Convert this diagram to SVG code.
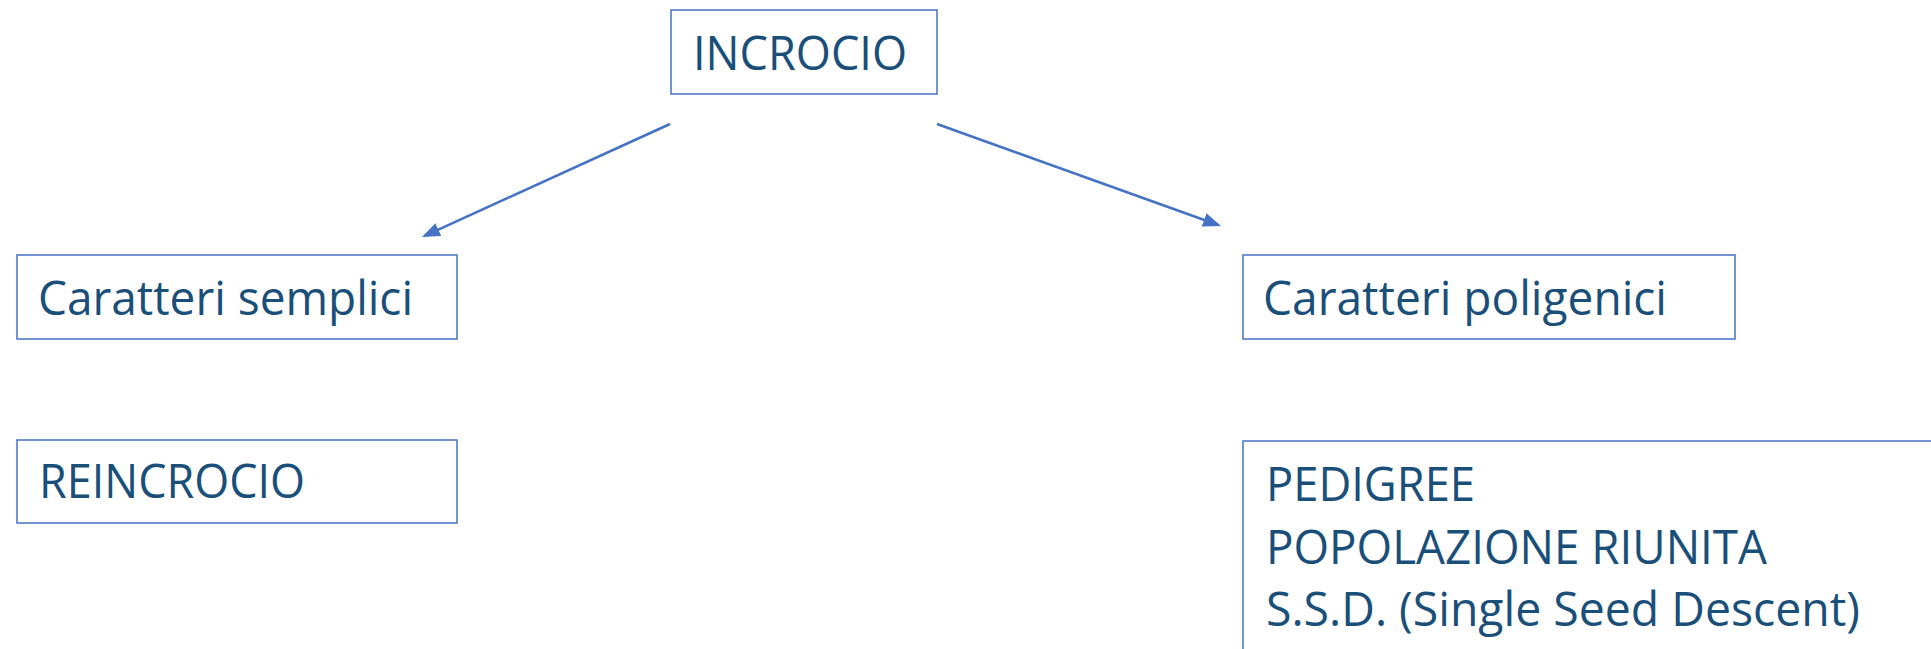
<svg xmlns="http://www.w3.org/2000/svg" width="1931" height="649" viewBox="0 0 1931 649">
<style>
.box{fill:#fff;stroke:#4472C4;stroke-width:1.5}
.t{font-family:"Open Sans","Noto Sans","Liberation Sans",sans-serif;font-size:48px;fill:#1a4f7a}
.c{stroke:#4472C4;stroke-width:2.5;fill:none}
</style>
<defs>
<marker id="ah" viewBox="0 0 18 14" refX="15" refY="7" markerWidth="18" markerHeight="14" markerUnits="userSpaceOnUse" orient="auto">
<path d="M0,0 L18,7 L0,14 z" fill="#4472C4"/>
</marker>
</defs>
<rect width="1931" height="649" fill="#fff"/>
<g id="connectors">
<line class="c" x1="670" y1="124" x2="424.7" y2="235.8" marker-end="url(#ah)"/>
<line class="c" x1="937" y1="124" x2="1218.2" y2="225" marker-end="url(#ah)"/>
</g>
<g id="incrocio">
<rect class="box" x="671" y="10" width="266" height="84"/>
<text class="t" x="693" y="70" textLength="214" lengthAdjust="spacingAndGlyphs">INCROCIO</text>
</g>
<g id="semplici">
<rect class="box" x="17" y="255" width="440" height="84"/>
<text class="t" x="38" y="315" textLength="375" lengthAdjust="spacingAndGlyphs">Caratteri semplici</text>
</g>
<g id="poligenici">
<rect class="box" x="1243" y="255" width="492" height="84"/>
<text class="t" x="1263" y="315" textLength="404" lengthAdjust="spacingAndGlyphs">Caratteri poligenici</text>
</g>
<g id="reincrocio">
<rect class="box" x="17" y="440" width="440" height="83"/>
<text class="t" x="39" y="498" textLength="266" lengthAdjust="spacingAndGlyphs">REINCROCIO</text>
</g>
<g id="metodi">
<rect class="box" x="1243" y="441" width="720" height="240"/>
<text class="t" x="1266" y="501" textLength="209" lengthAdjust="spacingAndGlyphs">PEDIGREE</text>
<text class="t" x="1266" y="564" textLength="501" lengthAdjust="spacingAndGlyphs">POPOLAZIONE RIUNITA</text>
<text class="t" x="1266" y="626" textLength="594" lengthAdjust="spacingAndGlyphs">S.S.D. (Single Seed Descent)</text>
</g>
</svg>
